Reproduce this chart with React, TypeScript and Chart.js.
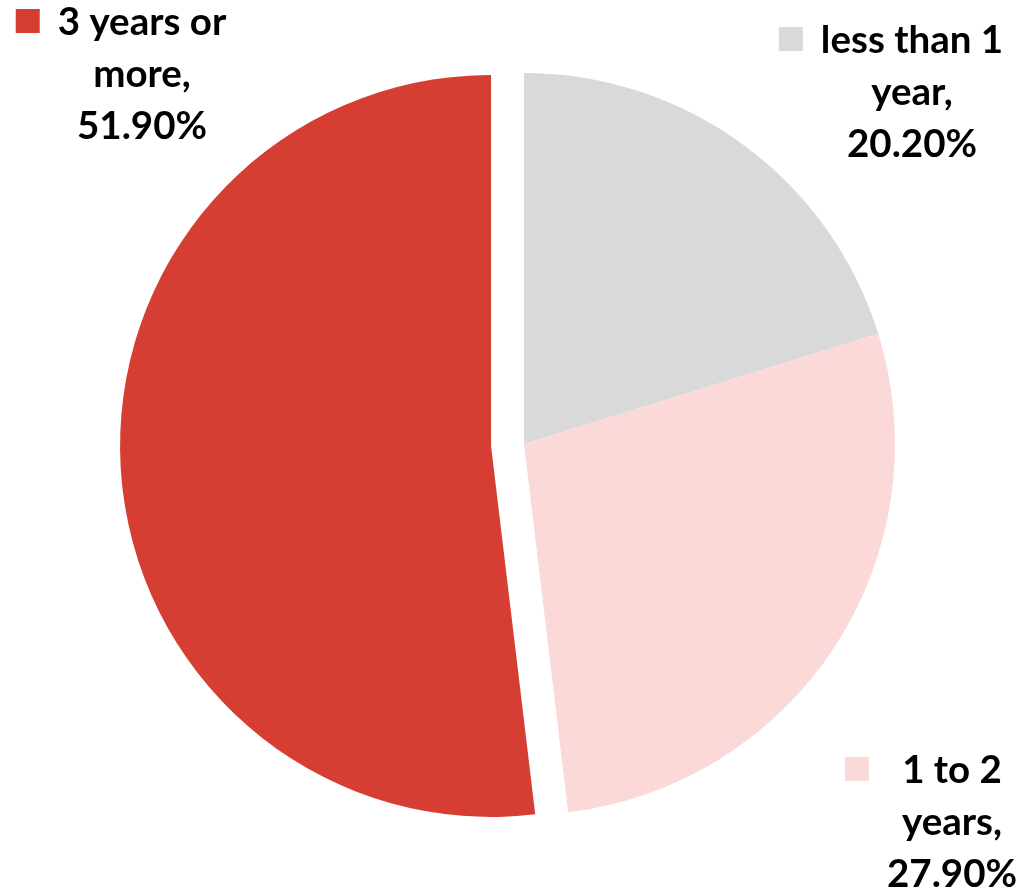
import React, { useEffect, useRef } from "react";
import { Chart, registerables } from "chart.js";

Chart.register(...registerables);

const categories = ["less than 1 year", "1 to 2 years", "3 years or more"];
const values = [20.2, 27.9, 51.9];
const labelLines = [
  ["less than 1", "year,"],
  ["1 to 2", "years,"],
  ["3 years or", "more,"],
];
const sliceColors = ["#D9D9D9", "#FBD9D9", "#D63E33"];

// layout of the data labels (center x, first baseline y)
const labelAnchors = [
  { x: 912, y: 53 },
  { x: 952, y: 783 },
  { x: 142, y: 35 },
];
const explodeIndex = 2;
const explodeDist = 33;

const explodePlugin = {
  id: "explode",
  afterDatasetsUpdate(chart: any) {
    const meta = chart.getDatasetMeta(0);
    const arc = meta.data[explodeIndex];
    if (!arc) return;
    const mid = (arc.startAngle + arc.endAngle) / 2;
    arc.x += Math.cos(mid) * explodeDist;
    arc.y += Math.sin(mid) * explodeDist;
  },
};

const labelPlugin = {
  id: "pieLabels",
  afterDraw(chart: any) {
    const ctx = chart.ctx as CanvasRenderingContext2D;
    const ds = chart.data.datasets[0];
    ctx.save();
    ctx.font = "bold 38.5px Lato";
    ctx.fillStyle = "#000000";
    ctx.textBaseline = "alphabetic";
    ctx.textAlign = "center";
    const lineH = 52;
    (chart.data.labels as string[]).forEach((_: string, i: number) => {
      const lines = [...labelLines[i], (ds.data[i] as number).toFixed(2) + "%"];
      const a = labelAnchors[i];
      let maxW = 0;
      lines.forEach((l) => (maxW = Math.max(maxW, ctx.measureText(l).width)));
      lines.forEach((l, j) => ctx.fillText(l, a.x, a.y + j * lineH));
      const keyRight = a.x - maxW / 2 - 18;
      ctx.fillStyle = (ds.backgroundColor as string[])[i];
      ctx.fillRect(keyRight - 24, a.y - 26, 24, 24);
      ctx.fillStyle = "#000000";
    });
    ctx.restore();
  },
};

export default function App() {
  const ref = useRef<HTMLCanvasElement>(null);
  useEffect(() => {
    if (!ref.current) return;
    const chart = new Chart(ref.current, {
      type: "pie",
      data: {
        labels: categories,
        datasets: [
          {
            data: values,
            backgroundColor: sliceColors,
            borderWidth: 0,
          },
        ],
      },
      options: {
        responsive: false,
        animation: false,
        events: [],
        layout: { padding: { left: 153, right: 127, top: 73, bottom: 76 } },
        plugins: {
          legend: { display: false },
          tooltip: { enabled: false },
        },
      },
      plugins: [explodePlugin, labelPlugin],
    });
    return () => chart.destroy();
  }, []);
  return (
    <div style={{ position: "absolute", left: 0, top: 0, width: 1022, height: 891, background: "#fff" }}>
      <canvas ref={ref} width={1022} height={891} />
    </div>
  );
}
